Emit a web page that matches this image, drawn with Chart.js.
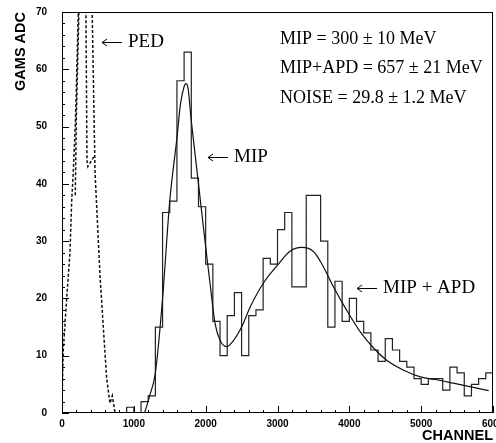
<!DOCTYPE html>
<html lang="en">
<head>
<meta charset="UTF-8">
<title>GAMS ADC spectrum</title>
<script src="https://cdn.jsdelivr.net/npm/chart.js"></script>
<style>
    body {
        margin: 0;
        background: white;
    }

    .chart-container {
        width: 496px;
        height: 443px;
    }
</style>
</head>
<body>
<div class="chart-container">
    <canvas id="adcChart"></canvas>
</div>

<script>
    // measured spectrum, 100-channel bins (lower edge of each bin)
    const binEdges = [800, 900, 1000, 1100, 1200, 1300, 1400, 1500, 1600, 1700,
        1800, 1900, 2000, 2100, 2200, 2300, 2400, 2500, 2600, 2700,
        2800, 2900, 3000, 3100, 3200, 3300, 3400, 3500, 3600, 3700,
        3800, 3900, 4000, 4100, 4200, 4300, 4400, 4500, 4600, 4700,
        4800, 4900, 5000, 5100, 5200, 5300, 5400, 5500, 5600, 5700,
        5800, 5900];
    const counts = [0, 1, 0, 2, 3, 15, 35, 37, 58, 63,
        41, 36, 26, 16, 10, 17, 21, 10, 17, 18,
        27, 26, 32, 35, 22, 22, 38, 38, 30, 15,
        23, 16, 20, 16, 14, 11, 9, 13, 11, 9,
        8, 6, 5, 6, 6, 4, 8, 7, 3, 5,
        6, 7];
    const lastEdge = 6000;

    // fit curve (MIP peak + MIP+APD)
    const fitCh = [1150, 1220, 1300, 1400, 1500, 1600, 1650, 1700, 1722, 1750,
        1800, 1900, 2000, 2060, 2130, 2200, 2290, 2390, 2500, 2620,
        2800, 3000, 3170, 3340, 3500, 3600, 3780, 3960, 4150, 4340,
        4520, 4750, 4990, 5220, 5450, 5680, 5940];
    const fitVal = [0, 3, 7, 20, 37, 48, 54, 57, 57.5, 57,
        51, 40, 29, 22.7, 15.7, 12.7, 11.6, 12.7, 15, 18.5,
        22.6, 25.8, 28.2, 28.9, 28.2, 26.4, 22, 18, 14.2, 11.3,
        9.2, 7.5, 6.3, 5.8, 5.2, 4.6, 3.9];

    // pedestal (dashed), goes off scale above 70
    const pedCh = [0, 18, 65, 111, 135, 157, 190, 227, 260, 320, 380, 413, 460, 529, 580, 622, 668, 700, 738];
    const pedVal = [2, 11, 20, 28, 37, 42, 52, 70, 85, 95, 90, 75, 42, 24, 14, 6, 1.7, 3, 0];
    const ped2Ch = [185, 200, 245, 330, 348, 360, 455];
    const ped2Val = [38, 52, 75, 75, 44, 43, 45];

    const xTicks = [0, 1000, 2000, 3000, 4000, 5000, 6000];
    const yTicks = [0, 10, 20, 30, 40, 50, 60, 70];

    const notes = [
        { text: "\u2190 PED", ch: 557, v: 64.8 },
        { text: "\u2190 MIP", ch: 2033, v: 44.7 },
        { text: "\u2190 MIP + APD", ch: 4108, v: 21.8 },
        { text: "MIP = 300 \u00b1 10 MeV", ch: 3035, v: 65.3 },
        { text: "MIP+APD = 657 \u00b1 21 MeV", ch: 3035, v: 60.2 },
        { text: "NOISE = 29.8 \u00b1 1.2 MeV", ch: 3035, v: 55.0 }
    ];

    let histPoints = binEdges.map((e, i) => ({ x: e, y: counts[i] }));
    histPoints.push({ x: lastEdge, y: counts[counts.length - 1] });

    const toPoints = (xs, ys) => xs.map((v, i) => ({ x: v, y: ys[i] }));

    const tickFont = { family: "'Liberation Sans', Arial, sans-serif", size: 10, weight: "bold" };
    const titleFont = { family: "'Liberation Sans', Arial, sans-serif", size: 14.5, weight: "bold", lineHeight: 1 };

    // frame, inward ticks and text notes
    const framePlugin = {
        id: "framePlugin",
        afterDraw(chart) {
            const { ctx, chartArea: a, scales: { x, y } } = chart;
            ctx.save();
            ctx.strokeStyle = "black";
            ctx.lineWidth = 1;
            ctx.strokeRect(a.left + 0.5, a.top + 0.5, a.right - a.left - 1, a.bottom - a.top - 1);

            ctx.beginPath();
            for (let c = 0; c <= 6000; c += 200) {
                let len = c % 1000 === 0 ? 7 : 3;
                let px = Math.round(x.getPixelForValue(c)) + 0.5;
                ctx.moveTo(px, a.bottom);
                ctx.lineTo(px, a.bottom - len);
            }
            for (let v = 0; v <= 70; v += 2) {
                let len = v % 10 === 0 ? 7 : 3;
                let py = Math.round(y.getPixelForValue(v)) + 0.5;
                ctx.moveTo(a.left, py);
                ctx.lineTo(a.left + len, py);
            }
            ctx.stroke();

            ctx.fillStyle = "black";
            ctx.textAlign = "left";
            ctx.textBaseline = "middle";
            notes.forEach(n => {
                let px = x.getPixelForValue(n.ch);
                let py = y.getPixelForValue(n.v);
                let text = n.text;
                if (text.startsWith("\u2190")) {
                    // thin long arrow like the typeset one, then the label
                    let ay = Math.round(py) + 0.5;
                    ctx.beginPath();
                    ctx.moveTo(px + 20, ay);
                    ctx.lineTo(px, ay);
                    ctx.moveTo(px + 5, ay - 3.5);
                    ctx.lineTo(px, ay);
                    ctx.lineTo(px + 5, ay + 3.5);
                    ctx.stroke();
                    px += 26;
                    text = text.slice(2);
                    ctx.font = "19px 'Liberation Serif', 'Times New Roman', serif";
                } else {
                    ctx.font = "18px 'Liberation Serif', 'Times New Roman', serif";
                }
                ctx.fillText(text, px, py);
            });
            ctx.restore();
        }
    };

    let ctx = document.getElementById("adcChart").getContext("2d");
    let adcChart = new Chart(ctx, {
        type: "line",
        data: {
            datasets: [
                {
                    label: "fit",
                    data: toPoints(fitCh, fitVal),
                    borderColor: "#111",
                    borderWidth: 1.2,
                    pointRadius: 0,
                    cubicInterpolationMode: "monotone"
                },
                {
                    label: "data",
                    data: histPoints,
                    borderColor: "#222",
                    borderWidth: 1.2,
                    pointRadius: 0,
                    stepped: "before"
                },
                {
                    label: "pedestal",
                    data: toPoints(pedCh, pedVal),
                    borderColor: "#111",
                    borderWidth: 1.5,
                    borderDash: [3, 2],
                    pointRadius: 0
                },
                {
                    label: "pedestal 2",
                    data: toPoints(ped2Ch, ped2Val),
                    borderColor: "#111",
                    borderWidth: 1.5,
                    borderDash: [3, 2],
                    pointRadius: 0
                }
            ]
        },
        options: {
            responsive: true,
            maintainAspectRatio: false,
            animation: false,
            layout: { padding: { top: 12, right: 3, left: 0, bottom: 0 } },
            plugins: {
                legend: { display: false },
                tooltip: { enabled: false }
            },
            scales: {
                x: {
                    type: "linear",
                    min: 0,
                    max: 6000,
                    grid: { display: false, drawTicks: false },
                    border: { display: false },
                    afterBuildTicks: scale => { scale.ticks = xTicks.map(v => ({ value: v })); },
                    ticks: {
                        font: tickFont,
                        color: "black",
                        padding: 5,
                        maxRotation: 0,
                        autoSkip: false,
                        callback: value => String(value)
                    },
                    title: { display: true, text: "CHANNEL", align: "end", color: "black", font: titleFont, padding: 0 },
                    afterFit: scale => {
                        scale.height = 30;
                        scale.paddingLeft = 0;
                        scale.paddingRight = 0;
                    }
                },
                y: {
                    min: 0,
                    max: 70,
                    grid: { display: false, drawTicks: false },
                    border: { display: false },
                    afterBuildTicks: scale => { scale.ticks = yTicks.map(v => ({ value: v })); },
                    ticks: { font: tickFont, color: "black", padding: 15, callback: value => String(value) },
                    title: { display: true, text: "GAMS ADC", align: "end", color: "black", font: titleFont, padding: { top: 14, bottom: 0 } },
                    afterFit: scale => {
                        scale.width = 62;
                        scale.paddingTop = 0;
                        scale.paddingBottom = 0;
                    }
                }
            }
        },
        plugins: [framePlugin]
    });
</script>
</body>
</html>
